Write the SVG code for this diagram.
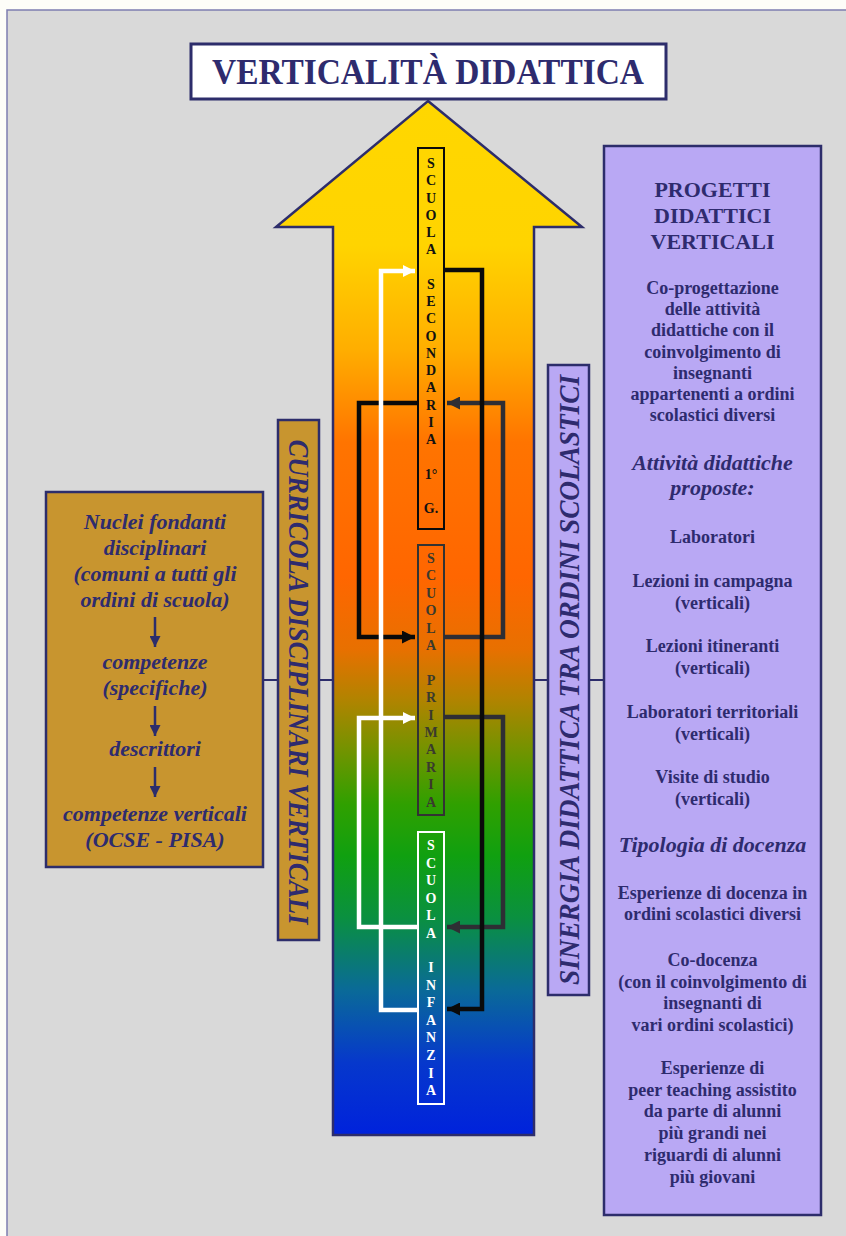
<svg xmlns="http://www.w3.org/2000/svg" width="846" height="1236" viewBox="0 0 846 1236">
<defs>
<linearGradient id="grad" gradientUnits="userSpaceOnUse" x1="0" y1="101" x2="0" y2="1135">
<stop offset="0" stop-color="#ffd700"/>
<stop offset="0.14" stop-color="#ffd400"/>
<stop offset="0.24" stop-color="#ffae00"/>
<stop offset="0.33" stop-color="#ff7400"/>
<stop offset="0.46" stop-color="#ff6600"/>
<stop offset="0.53" stop-color="#e87000"/>
<stop offset="0.58" stop-color="#b08400"/>
<stop offset="0.63" stop-color="#709400"/>
<stop offset="0.68" stop-color="#30a000"/>
<stop offset="0.73" stop-color="#10a010"/>
<stop offset="0.79" stop-color="#0a9040"/>
<stop offset="0.86" stop-color="#0a6a98"/>
<stop offset="0.93" stop-color="#0638cc"/>
<stop offset="1" stop-color="#0022dc"/>
</linearGradient>
<marker id="mw" viewBox="0 0 10 10" refX="10" refY="5" markerWidth="12" markerHeight="12" markerUnits="userSpaceOnUse" orient="auto"><path d="M0,0 L10,5 L0,10 z" fill="#ffffff"/></marker>
<marker id="mb" viewBox="0 0 10 10" refX="10" refY="5" markerWidth="13" markerHeight="13" markerUnits="userSpaceOnUse" orient="auto"><path d="M0,0 L10,5 L0,10 z" fill="#0a0a0a"/></marker>
<marker id="mg" viewBox="0 0 10 10" refX="10" refY="5" markerWidth="13" markerHeight="13" markerUnits="userSpaceOnUse" orient="auto"><path d="M0,0 L10,5 L0,10 z" fill="#2e2e34"/></marker>
<marker id="mn" viewBox="0 0 10 10" refX="10" refY="5" markerWidth="11" markerHeight="11" markerUnits="userSpaceOnUse" orient="auto"><path d="M0,0 L10,5 L0,10 z" fill="#2d2d6b"/></marker>
</defs>
<style>
.nv{fill:#2e2b6e;font-family:"Liberation Serif","Times New Roman",serif;font-weight:bold;text-anchor:middle}
.it{font-style:italic}
.b18{font-size:18px}
.b22{font-size:22px}
.let{font-family:"Liberation Serif","Times New Roman",serif;font-weight:bold;font-size:14px;text-anchor:middle}
.box{stroke:#2d2d6b;stroke-width:2.5}
.cn{fill:none;stroke-width:4.5;stroke-linejoin:miter}
.hl{stroke:#2d2d6b;stroke-width:2;fill:none}
.ar{stroke:#2d2d6b;stroke-width:2.5;fill:none}
</style>
<rect x="0" y="0" width="846" height="1236" fill="#fdfdf8"/>
<rect x="7" y="10" width="845" height="1232" fill="#d9d9d9" stroke="#7d7db0" stroke-width="1.5"/>

<g id="title">
<rect x="191" y="44" width="475" height="55" fill="#ffffff" stroke="#2d2d6b" stroke-width="3"/>
<text x="428" y="84" class="nv" font-size="36" textLength="432" lengthAdjust="spacingAndGlyphs">VERTICALITÀ DIDATTICA</text>
</g>

<g id="arrow">
<path d="M428,101 L582,227 L534,227 L534,1135 L333,1135 L333,227 L276,227 Z" fill="url(#grad)" stroke="#2d2d6b" stroke-width="2.5" stroke-linejoin="miter"/>
</g>

<g id="secondaria">
<rect x="418" y="148" width="26" height="381" fill="none" stroke="#0a0a0a" stroke-width="2"/>
<text class="let" fill="#111111"><tspan x="431" y="168">S</tspan><tspan x="431" dy="17.25">C</tspan><tspan x="431" dy="17.25">U</tspan><tspan x="431" dy="17.25">O</tspan><tspan x="431" dy="17.25">L</tspan><tspan x="431" dy="17.25">A</tspan><tspan x="431" dy="34.5">S</tspan><tspan x="431" dy="17.25">E</tspan><tspan x="431" dy="17.25">C</tspan><tspan x="431" dy="17.25">O</tspan><tspan x="431" dy="17.25">N</tspan><tspan x="431" dy="17.25">D</tspan><tspan x="431" dy="17.25">A</tspan><tspan x="431" dy="17.25">R</tspan><tspan x="431" dy="17.25">I</tspan><tspan x="431" dy="17.25">A</tspan><tspan x="431" dy="34.5">1°</tspan><tspan x="431" dy="34.5">G.</tspan></text>
</g>

<g id="primaria">
<rect x="418" y="545" width="26" height="270" fill="none" stroke="#333333" stroke-width="2"/>
<text class="let" fill="#3a3a2e"><tspan x="431" y="563">S</tspan><tspan x="431" dy="17.4">C</tspan><tspan x="431" dy="17.4">U</tspan><tspan x="431" dy="17.4">O</tspan><tspan x="431" dy="17.4">L</tspan><tspan x="431" dy="17.4">A</tspan><tspan x="431" dy="34.8">P</tspan><tspan x="431" dy="17.4">R</tspan><tspan x="431" dy="17.4">I</tspan><tspan x="431" dy="17.4">M</tspan><tspan x="431" dy="17.4">A</tspan><tspan x="431" dy="17.4">R</tspan><tspan x="431" dy="17.4">I</tspan><tspan x="431" dy="17.4">A</tspan></text>
</g>

<g id="infanzia">
<rect x="418" y="832" width="26" height="272" fill="none" stroke="#ffffff" stroke-width="2"/>
<text class="let" fill="#ffffff"><tspan x="431" y="850">S</tspan><tspan x="431" dy="17.6">C</tspan><tspan x="431" dy="17.6">U</tspan><tspan x="431" dy="17.6">O</tspan><tspan x="431" dy="17.6">L</tspan><tspan x="431" dy="17.6">A</tspan><tspan x="431" dy="34">I</tspan><tspan x="431" dy="17.6">N</tspan><tspan x="431" dy="17.6">F</tspan><tspan x="431" dy="17.6">A</tspan><tspan x="431" dy="17.6">N</tspan><tspan x="431" dy="17.6">Z</tspan><tspan x="431" dy="17.6">I</tspan><tspan x="431" dy="17.6">A</tspan></text>
</g>

<g id="nuclei">
<rect x="46" y="492" width="217" height="375" fill="#c8952f" class="box"/>
<text class="nv it b22"><tspan x="155" y="529">Nuclei fondanti</tspan><tspan x="155" y="555">disciplinari</tspan><tspan x="155" y="581">(comuni a tutti gli</tspan><tspan x="155" y="607">ordini di scuola)</tspan><tspan x="155" y="669">competenze</tspan><tspan x="155" y="695">(specifiche)</tspan><tspan x="155" y="756">descrittori</tspan><tspan x="155" y="821">competenze verticali</tspan><tspan x="155" y="847">(OCSE - PISA)</tspan></text>
</g>

<g id="curricola">
<rect x="278" y="420" width="41" height="520" fill="#c8952f" class="box"/>
<text class="nv it" font-size="30" transform="translate(298.5,682) rotate(90)" x="0" y="10" textLength="485" lengthAdjust="spacingAndGlyphs">CURRICOLA DISCIPLINARI VERTICALI</text>
</g>

<g id="sinergia">
<rect x="548" y="365" width="41" height="630" fill="#b9a8f4" class="box"/>
<text class="nv it" font-size="30" transform="translate(568.5,680) rotate(-90)" x="0" y="10" textLength="610" lengthAdjust="spacingAndGlyphs">SINERGIA DIDATTICA TRA ORDINI SCOLASTICI</text>
</g>

<g id="progetti">
<rect x="604" y="146" width="217" height="1069" fill="#b9a8f4" class="box"/>
<text class="nv b22"><tspan x="712.5" y="197">PROGETTI</tspan><tspan x="712.5" y="223">DIDATTICI</tspan><tspan x="712.5" y="249">VERTICALI</tspan></text>
<text class="nv b18"><tspan x="712.5" y="294">Co-progettazione</tspan><tspan x="712.5" y="315">delle attività</tspan><tspan x="712.5" y="336">didattiche con il</tspan><tspan x="712.5" y="358">coinvolgimento di</tspan><tspan x="712.5" y="379">insegnanti</tspan><tspan x="712.5" y="400">appartenenti a ordini</tspan><tspan x="712.5" y="421">scolastici diversi</tspan></text>
<text class="nv it b22"><tspan x="712.5" y="470">Attività didattiche</tspan><tspan x="712.5" y="495">proposte:</tspan></text>
<text class="nv b18"><tspan x="712.5" y="543">Laboratori</tspan><tspan x="712.5" y="587">Lezioni in campagna</tspan><tspan x="712.5" y="609">(verticali)</tspan><tspan x="712.5" y="652">Lezioni itineranti</tspan><tspan x="712.5" y="674">(verticali)</tspan><tspan x="712.5" y="718">Laboratori territoriali</tspan><tspan x="712.5" y="740">(verticali)</tspan><tspan x="712.5" y="783">Visite di studio</tspan><tspan x="712.5" y="805">(verticali)</tspan></text>
<text class="nv it b22" x="712.5" y="852">Tipologia di docenza</text>
<text class="nv b18"><tspan x="712.5" y="899">Esperienze di docenza in</tspan><tspan x="712.5" y="920">ordini scolastici diversi</tspan><tspan x="712.5" y="966">Co-docenza</tspan><tspan x="712.5" y="988">(con il coinvolgimento di</tspan><tspan x="712.5" y="1009">insegnanti di</tspan><tspan x="712.5" y="1031">vari ordini scolastici)</tspan><tspan x="712.5" y="1074">Esperienze di</tspan><tspan x="712.5" y="1096">peer teaching assistito</tspan><tspan x="712.5" y="1117">da parte di alunni</tspan><tspan x="712.5" y="1139">più grandi nei</tspan><tspan x="712.5" y="1161">riguardi di alunni</tspan><tspan x="712.5" y="1183">più giovani</tspan></text>
</g>

<g id="connectors">
<path class="hl" d="M263,680 H278 M319,680 H333 M534,680 H548 M589,680 H604"/>
<path class="cn" stroke="#2e2e34" d="M444,637 H503 V403 H447" marker-end="url(#mg)"/>
<path class="cn" stroke="#2e2e34" d="M444,717 H503 V927 H447" marker-end="url(#mg)"/>
<path class="cn" stroke="#0a0a0a" d="M418,403 H359 V637 H415" marker-end="url(#mb)"/>
<path class="cn" stroke="#0a0a0a" d="M444,270 H482 V1009 H447" marker-end="url(#mb)"/>
<path class="cn" stroke="#ffffff" stroke-width="4" d="M418,1010 H381 V271 H415" marker-end="url(#mw)"/>
<path class="cn" stroke="#ffffff" stroke-width="4" d="M418,927 H359 V718 H415" marker-end="url(#mw)"/>
<path class="ar" d="M155,617 V647" marker-end="url(#mn)"/>
<path class="ar" d="M155,706 V736" marker-end="url(#mn)"/>
<path class="ar" d="M155,767 V797" marker-end="url(#mn)"/>
</g>
</svg>
